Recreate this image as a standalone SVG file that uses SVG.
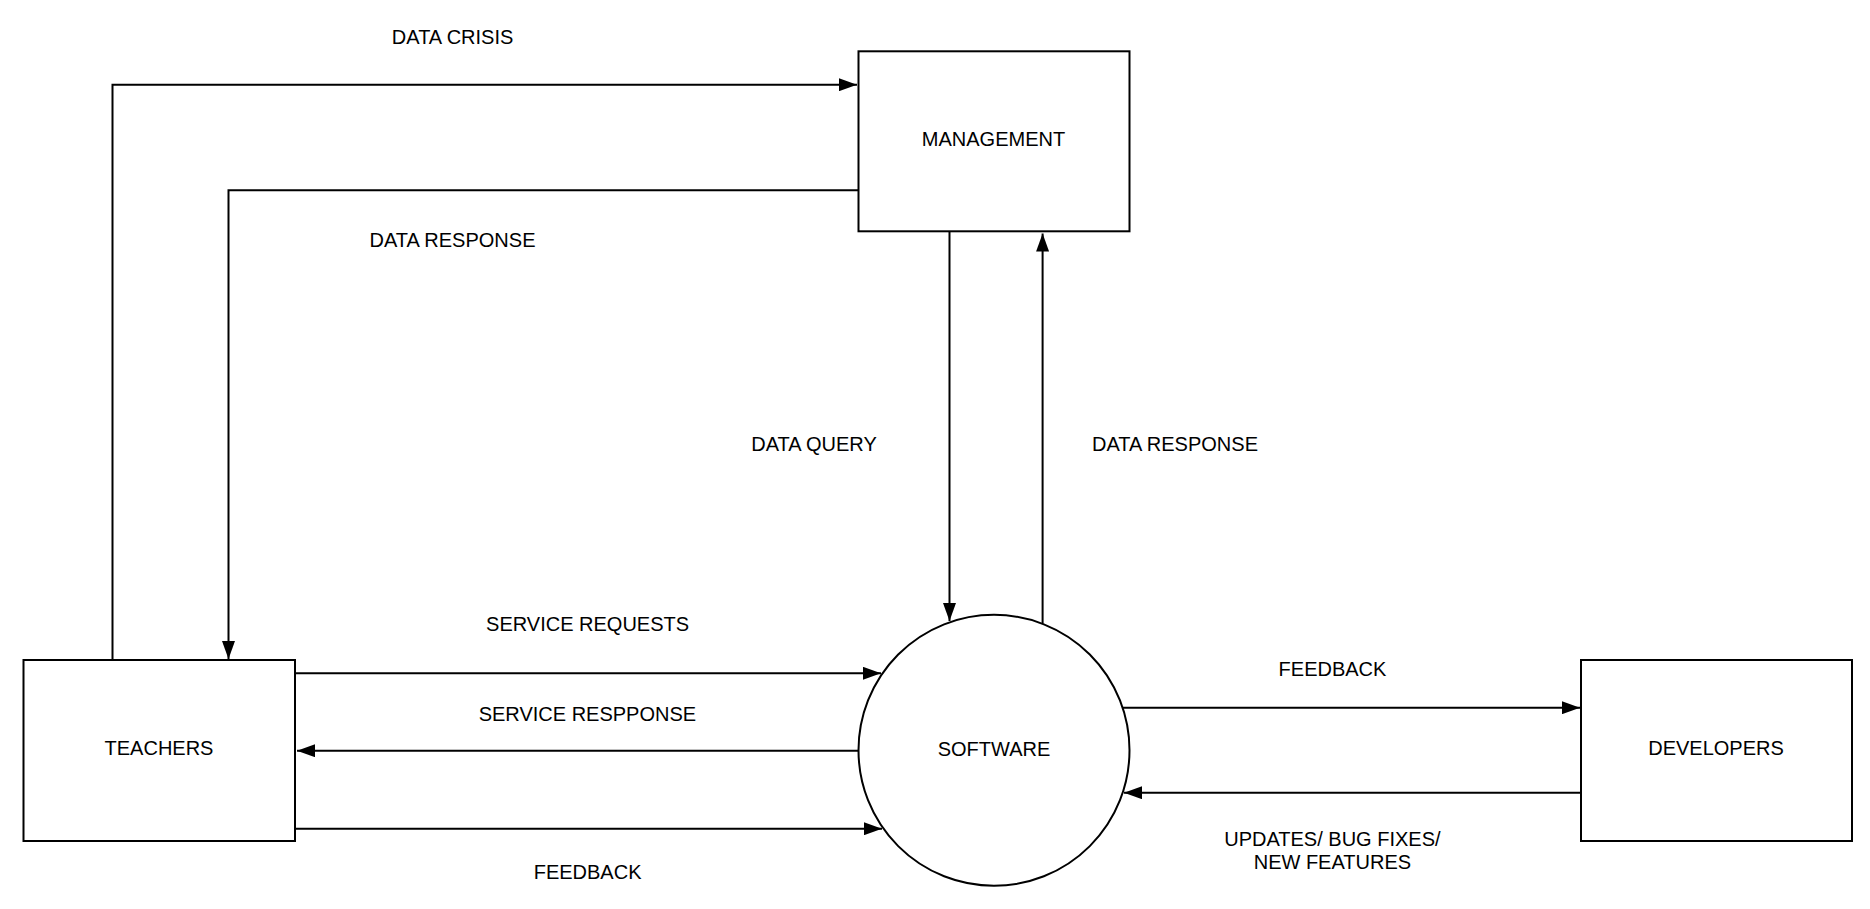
<svg xmlns="http://www.w3.org/2000/svg" width="1870" height="909" viewBox="0 0 1870 909">
<style>
.box{fill:#fff;stroke:#000;stroke-width:2}
.lbl{font-family:"Liberation Sans",Arial,sans-serif;font-size:20px;fill:#000;text-anchor:middle}
.c{fill:none;stroke:#000;stroke-width:2}
</style>
<defs>
<marker id="ah" markerUnits="userSpaceOnUse" markerWidth="18" markerHeight="13" refX="18" refY="6.5" orient="auto">
<path d="M0,0 L18,6.5 L0,13 z" fill="#000"/>
</marker>
</defs>
<rect width="1870" height="909" fill="#fff"/>
<g id="connectors">
<path class="c" d="M112.5,660 V84.7 H857" marker-end="url(#ah)"/>
<path class="c" d="M858,190.3 H228.5 V659" marker-end="url(#ah)"/>
<path class="c" d="M949.5,231.5 V621" marker-end="url(#ah)"/>
<path class="c" d="M1042.6,623.5 V233.5" marker-end="url(#ah)"/>
<path class="c" d="M295,673.3 H881" marker-end="url(#ah)"/>
<path class="c" d="M858.5,750.7 H297" marker-end="url(#ah)"/>
<path class="c" d="M295,828.7 H882" marker-end="url(#ah)"/>
<path class="c" d="M1123,707.7 H1580" marker-end="url(#ah)"/>
<path class="c" d="M1581,792.7 H1124" marker-end="url(#ah)"/>
<text class="lbl" x="452.6" y="44">DATA CRISIS</text>
<text class="lbl" x="452.5" y="247.3">DATA RESPONSE</text>
<text class="lbl" x="814" y="450.5">DATA QUERY</text>
<text class="lbl" x="1175" y="450.5">DATA RESPONSE</text>
<text class="lbl" x="587.6" y="630.5">SERVICE REQUESTS</text>
<text class="lbl" x="587.4" y="721.2">SERVICE RESPPONSE</text>
<text class="lbl" x="587.6" y="879">FEEDBACK</text>
<text class="lbl" x="1332.5" y="676.2">FEEDBACK</text>
<text class="lbl" x="1332.4" y="845.5">UPDATES/ BUG FIXES/</text>
<text class="lbl" x="1332.4" y="869">NEW FEATURES</text>
</g>
<g id="management">
<rect class="box" x="858.5" y="51.3" width="271" height="180"/>
<text class="lbl" x="993.5" y="145.5">MANAGEMENT</text>
</g>
<g id="teachers">
<rect class="box" x="23.5" y="660" width="271.5" height="181"/>
<text class="lbl" x="159" y="754.5">TEACHERS</text>
</g>
<g id="software">
<circle class="box" cx="994" cy="750.3" r="135.5"/>
<text class="lbl" x="994" y="755.5">SOFTWARE</text>
</g>
<g id="developers">
<rect class="box" x="1581" y="660" width="271" height="181"/>
<text class="lbl" x="1716" y="755">DEVELOPERS</text>
</g>
</svg>
